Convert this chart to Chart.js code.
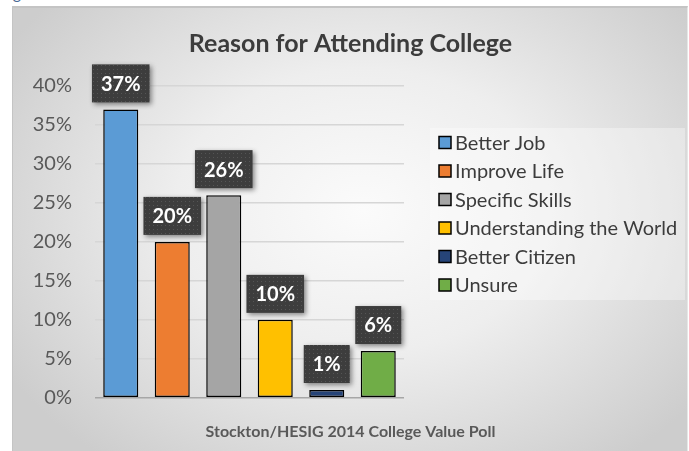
<!doctype html>
<html lang="en">
<head>
<meta charset="utf-8" />
<title>Reason for Attending College</title>
<script src="https://cdn.jsdelivr.net/npm/chart.js@4"></script>
<style>
  html, body { margin: 0; padding: 0; background: #fff; }
  body { width: 689px; height: 451px; position: relative; overflow: hidden; font-family: Lato, sans-serif; }
  .caption { position: absolute; left: 0; top: -17px; font-size: 16px; color: #4a6a96; }
  .frame {
    position: absolute; left: 12px; top: 6px; width: 674px; height: 450px;
    border-top: 2px solid #c4c4c4; border-left: 1px solid #c4c4c4; border-right: 1px solid #e6e6e6;
    background: radial-gradient(ellipse 62% 70% at 52% 45%, #fbfbfb 0%, #eeeeee 45%, #d9d9d9 80%, #cdcdcd 100%);
  }
  canvas { position: absolute; left: 0; top: 0; }
</style>
</head>
<body>
<div class="caption">Figure 3</div>
<div class="frame"></div>
<canvas id="chart" width="689" height="451"></canvas>
<script>
// poll results, one bar per reason
const reasons = ["Better Job", "Improve Life", "Specific Skills", "Understanding the World", "Better Citizen", "Unsure"];
const shares = [37, 20, 26, 10, 1, 6];
const barColors = ["#5b9bd5", "#ed7d31", "#a5a5a5", "#ffc000", "#264478", "#70ad47"];
const yTicks = [0, 5, 10, 15, 20, 25, 30, 35, 40];

const TEXT = "#3c3c3c";

// dotted dark fill used behind the value labels
function dotPattern(ctx) {
  const c = document.createElement("canvas");
  c.width = 4; c.height = 4;
  const p = c.getContext("2d");
  p.fillStyle = "#3d3d3d";
  p.fillRect(0, 0, 4, 4);
  p.fillStyle = "#555555";
  p.fillRect(1, 1, 1, 1);
  return ctx.createPattern(c, "repeat");
}

const valueBoxes = {
  id: "valueBoxes",
  afterDatasetsDraw(chart) {
    const ctx = chart.ctx;
    const meta = chart.getDatasetMeta(0);
    const fill = dotPattern(ctx);
    ctx.save();
    ctx.font = "bold 20px Lato";
    ctx.textAlign = "center";
    ctx.textBaseline = "middle";
    meta.data.forEach((bar, i) => {
      const text = shares[i] + "%";
      const w = ctx.measureText(text).width + 18;
      const h = 38;
      const x = bar.x - w / 2;
      const y = bar.y - 7 - h;
      ctx.save();
      ctx.shadowColor = "rgba(0,0,0,0.45)";
      ctx.shadowBlur = 5;
      ctx.shadowOffsetX = 2;
      ctx.shadowOffsetY = 2;
      ctx.fillStyle = fill;
      ctx.fillRect(x, y, w, h);
      ctx.restore();
      ctx.fillStyle = "#ffffff";
      ctx.fillText(text, bar.x, y + h / 2 + 1);
    });
    ctx.restore();
  },
};

const sideLegend = {
  id: "sideLegend",
  afterDraw(chart) {
    const ctx = chart.ctx;
    ctx.save();
    ctx.fillStyle = "rgba(255,255,255,0.35)";
    ctx.fillRect(430, 128, 255, 172);
    ctx.font = "20px Lato";
    ctx.textBaseline = "middle";
    reasons.forEach((name, i) => {
      const cy = 142.5 + i * 28.5;
      ctx.fillStyle = barColors[i];
      ctx.fillRect(439, cy - 6, 12, 12);
      ctx.strokeStyle = "#000";
      ctx.lineWidth = 1.5;
      ctx.strokeRect(439, cy - 6, 12, 12);
      ctx.fillStyle = TEXT;
      ctx.fillText(name, 455, cy + 1);
    });
    ctx.restore();
  },
};

new Chart(document.getElementById("chart"), {
  type: "bar",
  data: {
    labels: reasons,
    datasets: [{
      data: shares,
      backgroundColor: barColors,
      borderColor: "#000",
      borderWidth: 1.5,
      borderSkipped: false,
      categoryPercentage: 1,
      barPercentage: 0.68,
    }],
  },
  options: {
    responsive: false,
    animation: false,
    layout: { padding: { left: 12, right: 0, top: 0, bottom: 0 } },
    plugins: {
      legend: { display: false },
      tooltip: { enabled: false },
      title: {
        display: true,
        text: "Reason for Attending College",
        color: TEXT,
        font: { family: "Lato", size: 25, weight: "bold" },
        padding: { top: 29, bottom: 27 },
      },
      subtitle: {
        display: true,
        position: "bottom",
        text: "Stockton/HESIG 2014 College Value Poll",
        color: "#595959",
        font: { family: "Lato", size: 16, weight: "bold" },
        padding: { top: 24, bottom: 10 },
      },
    },
    scales: {
      x: { display: false },
      y: {
        min: 0,
        max: 40,
        afterBuildTicks: (scale) => { scale.ticks = yTicks.map((v) => ({ value: v })); },
        afterFit: (scale) => { scale.width = 83; },
        border: { display: false },
        grid: {
          drawTicks: false,
          lineWidth: 1.5,
          color: (c) => (c.tick && c.tick.value === 0 ? "#a6a6a6" : "#d6d6d6"),
        },
        ticks: {
          padding: 23,
          color: "#595959",
          font: { family: "Lato", size: 20 },
          callback: (v) => v + "%",
        },
      },
      side: {
        position: "right",
        afterFit: (scale) => { scale.width = 285; },
        border: { display: false },
        grid: { display: false, drawOnChartArea: false },
        ticks: { display: false },
      },
    },
  },
  plugins: [valueBoxes, sideLegend],
});
</script>
</body>
</html>
